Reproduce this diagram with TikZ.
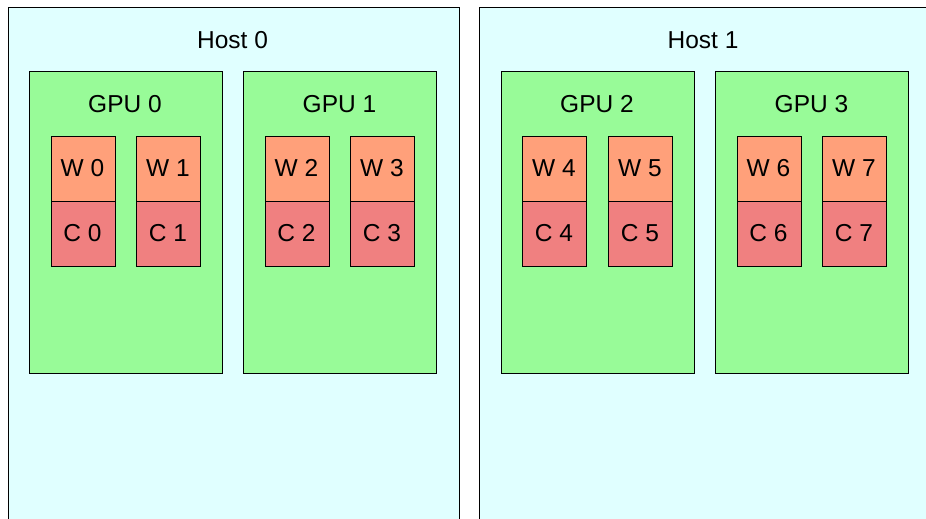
\documentclass[tikz,border=0pt]{standalone}
\usepackage{fontspec}
\setmainfont{Liberation Sans}
\begin{document}
\begin{tikzpicture}[x=1pt,y=-1pt,
  box/.style={draw=black,line width=1pt,rectangle,inner sep=0pt,anchor=north west},
  hostbox/.style={box,fill=hostc},
  gpubox/.style={box,fill=gpuc,minimum width=193pt,minimum height=301pt},
  wbox/.style={box,fill=wc,minimum width=64pt,minimum height=65pt},
  cbox/.style={box,fill=cc,minimum width=64pt,minimum height=65pt},
  lbl/.style={font=\fontsize{24.5}{28}\selectfont,inner sep=0pt}
]
\definecolor{hostc}{HTML}{E0FFFF}
\definecolor{gpuc}{HTML}{98FB98}
\definecolor{wc}{HTML}{FFA07A}
\definecolor{cc}{HTML}{F08080}
\useasboundingbox (0,0) rectangle (926,519);
\clip (0,0) rectangle (926,519);
\fill[white] (0,0) rectangle (926,519);
% hosts
\node[hostbox,minimum width=451pt,minimum height=560pt] (h0) at (7.5,7.5) {};
\node[hostbox,minimum width=480pt,minimum height=560pt] (h1) at (479,7.5) {};
\node[lbl] (h0l) at (232.5,40) {Host 0};
\node[lbl] (h1l) at (703,40) {Host 1};
% gpus
\node[gpubox] (g0) at (28.5,71.5) {};
\node[gpubox] (g1) at (243,71.5) {};
\node[gpubox] (g2) at (500.5,71.5) {};
\node[gpubox] (g3) at (715,71.5) {};
\node[lbl] (g0l) at (125,104) {GPU 0};
\node[lbl] (g1l) at (339.5,104) {GPU 1};
\node[lbl] (g2l) at (597,104) {GPU 2};
\node[lbl] (g3l) at (811.5,104) {GPU 3};
% workers / caches
\foreach \i/\x in {0/50.5,1/136,2/264.5,3/350,4/522,5/608,6/736.5,7/822}{
  \node[wbox] (w\i) at (\x,135.5) {};
  \node[lbl] (w\i l) at (\x+32,168) {W \i};
  \node[cbox] (c\i) at (\x,200.5) {};
  \node[lbl] (c\i l) at (\x+32,233) {C \i};
}
\end{tikzpicture}
\end{document}
